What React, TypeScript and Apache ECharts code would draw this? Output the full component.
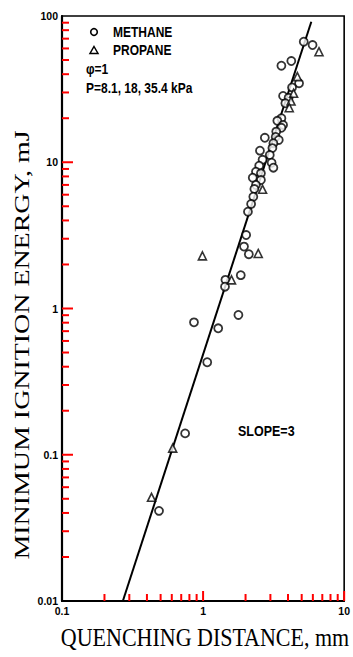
import React, { useEffect, useRef } from "react";
import * as echarts from "echarts";

// quenching distance (mm), minimum ignition energy (mJ)
const methane: [number, number][] = [
  [5.17, 66.7], [5.97, 63.3], [3.59, 45.7], [4.22, 49.2], [4.79, 34.7], [4.27, 32.5],
  [3.69, 28.4], [4.04, 27.6], [3.83, 25.3], [3.59, 20.0], [3.36, 19.2], [3.69, 18.0],
  [3.59, 17.2], [3.3, 16.2], [2.74, 14.7], [3.27, 14.9], [3.44, 14.2], [3.15, 13.5],
  [3.1, 12.5], [2.53, 12.0], [2.97, 11.2], [2.64, 10.4], [3.06, 9.93], [3.15, 9.18],
  [2.5, 9.47], [2.37, 8.62], [2.57, 8.4], [2.25, 7.84], [2.57, 7.56], [2.37, 6.99],
  [2.31, 6.56], [2.27, 5.81], [2.19, 5.18], [2.08, 4.59], [2.02, 3.18], [1.95, 2.65],
  [2.11, 2.35], [1.85, 1.69], [1.44, 1.57], [1.43, 1.41], [1.78, 0.903], [0.862, 0.804],
  [1.28, 0.732], [1.07, 0.429], [0.746, 0.14], [0.487, 0.0413],
];
const propane: [number, number][] = [
  [6.63, 57.0], [4.66, 38.5], [4.38, 29.6], [4.2, 26.2], [4.08, 23.6], [2.64, 6.53],
  [2.46, 2.38], [0.989, 2.29], [1.59, 1.57], [0.609, 0.111], [0.431, 0.0512],
];
const fitLine: [number, number][] = [[0.27, 0.01], [5.85, 91.4]];

const xRange = [0.1, 10];
const yRange = [0.01, 100];
const xMajorTicks = [1, 10];
const yMajorTicks = [0.1, 1, 10];
const xMinorTicks = [0.2, 0.3, 0.4, 0.5, 0.6, 0.7, 0.8, 0.9, 2, 3, 4, 5, 6, 7, 8, 9];
const yMinorTicks = [
  0.02, 0.03, 0.04, 0.05, 0.06, 0.07, 0.08, 0.09,
  0.2, 0.3, 0.4, 0.5, 0.6, 0.7, 0.8, 0.9,
  2, 3, 4, 5, 6, 7, 8, 9,
  20, 30, 40, 50, 60, 70, 80, 90,
];

const legendLabels = ["METHANE", "PROPANE"];
const noteLabels = ["φ=1", "P=8.1, 18, 35.4 kPa"];
const slopeLabel = "SLOPE=3";
const xTitle = "QUENCHING DISTANCE, mm";
const yTitle = "MINIMUM IGNITION ENERGY, mJ";

const INK = "#000";
const TICK = "red";

export default function App() {
  const ref = useRef<HTMLDivElement>(null);
  useEffect(() => {
    if (!ref.current) return;
    const chart = echarts.init(ref.current, undefined, { renderer: "svg" });
    const labelFont = { fontFamily: "Liberation Sans", fontSize: 10.5, fontWeight: "bold" as const, color: INK };
    const gfont = "bold 12px 'Liberation Sans'";
    const tickSeries = (values: number[], axis: "x" | "y", len: number) => ({
      type: "custom",
      clip: false,
      z: 10,
      data: values.map((v) => (axis === "x" ? [v, yRange[0]] : [xRange[0], v])),
      renderItem: (_p: any, api: any) => {
        const pt = api.coord([api.value(0), api.value(1)]);
        const shape =
          axis === "x"
            ? { x1: pt[0], y1: pt[1], x2: pt[0], y2: pt[1] - len }
            : { x1: pt[0], y1: pt[1], x2: pt[0] + len, y2: pt[1] };
        return { type: "line", shape, style: { stroke: TICK, lineWidth: 2 } };
      },
    });
    chart.setOption({
      animation: false,
      grid: {
        left: 62, right: 3, top: 16, bottom: 56,
        show: true, borderColor: INK, borderWidth: 1.6,
      },
      xAxis: {
        type: "log", min: xRange[0], max: xRange[1],
        axisLine: { show: true, lineStyle: { color: INK, width: 1.8 } },
        axisTick: { show: false },
        axisLabel: { ...labelFont, margin: 4 },
        splitLine: { show: false },
      },
      yAxis: {
        type: "log", min: yRange[0], max: yRange[1],
        axisLine: { show: true, lineStyle: { color: INK, width: 2.2 } },
        axisTick: { show: false },
        axisLabel: { ...labelFont, margin: 4 },
        splitLine: { show: false },
      },
      series: [
        tickSeries(xMinorTicks, "x", 7),
        tickSeries(xMajorTicks, "x", 10),
        tickSeries(yMinorTicks, "y", 7),
        tickSeries(yMajorTicks, "y", 11),
        {
          type: "line", data: fitLine, symbol: "none",
          lineStyle: { color: INK, width: 2 },
        },
        {
          name: legendLabels[0], type: "scatter", data: methane, symbol: "circle", symbolSize: 8,
          itemStyle: { color: "#fff", borderColor: INK, borderWidth: 1.8 }, z: 5,
        },
        {
          name: legendLabels[1], type: "scatter", data: propane, symbol: "triangle", symbolSize: 8,
          itemStyle: { color: "#fff", borderColor: INK, borderWidth: 1.6 }, z: 5,
        },
      ],
      graphic: [
        { type: "circle", shape: { cx: 94, cy: 32, r: 3.3 }, style: { fill: "#fff", stroke: INK, lineWidth: 1.6 } },
        { type: "polygon", shape: { points: [[94, 46.5], [98, 53.5], [90, 53.5]] }, style: { fill: "#fff", stroke: INK, lineWidth: 1.5 } },
        { type: "text", x: 113, y: 32, scaleY: 1.2, style: { text: legendLabels[0], font: gfont, fill: INK, align: "left", verticalAlign: "middle" } },
        { type: "text", x: 113, y: 50, scaleY: 1.2, style: { text: legendLabels[1], font: gfont, fill: INK, align: "left", verticalAlign: "middle" } },
        { type: "text", x: 86, y: 69, scaleY: 1.2, style: { text: noteLabels[0], font: gfont, fill: INK, align: "left", verticalAlign: "middle" } },
        { type: "text", x: 86, y: 88, scaleY: 1.2, style: { text: noteLabels[1], font: gfont, fill: INK, align: "left", verticalAlign: "middle" } },
        { type: "text", x: 238, y: 431, scaleY: 1.2, style: { text: slopeLabel, font: "bold 12.5px 'Liberation Sans'", fill: INK, align: "left", verticalAlign: "middle" } },
        { type: "text", x: 205, y: 637, scaleY: 1.15, style: { text: xTitle, font: "22px 'Liberation Serif'", fill: INK, align: "center", verticalAlign: "middle" } },
        { type: "text", x: 22, y: 345, rotation: Math.PI / 2, scaleX: 1.27, style: { text: yTitle, font: "22px 'Liberation Serif'", fill: INK, align: "center", verticalAlign: "middle" } },
      ],
    });
    return () => chart.dispose();
  }, []);
  return <div ref={ref} style={{ position: "fixed", left: 0, top: 0, width: 353, height: 657, background: "#fff" }} />;
}
